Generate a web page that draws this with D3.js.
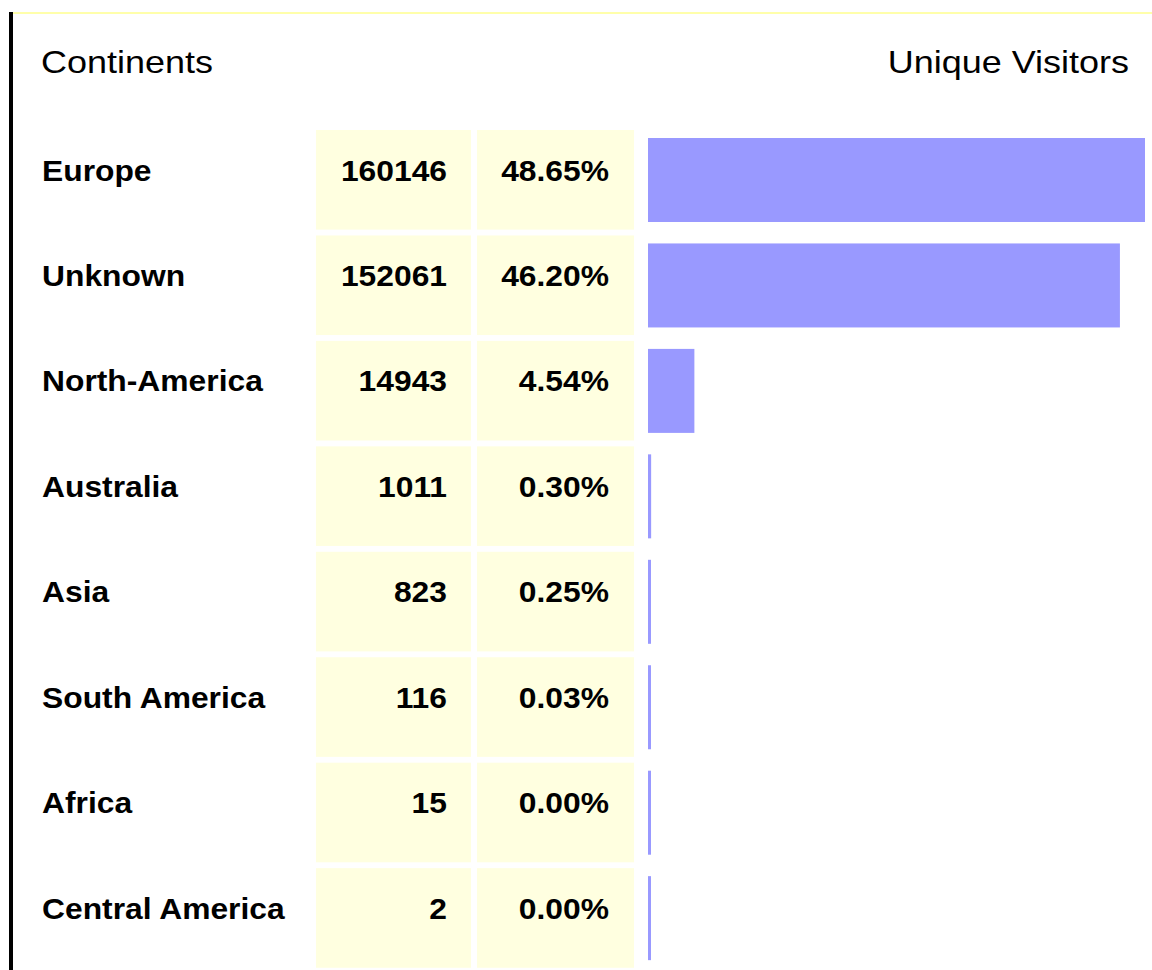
<!DOCTYPE html>
<html>
<head>
<meta charset="utf-8">
<script src="https://cdn.jsdelivr.net/npm/d3@7"></script>
<style>
  html, body { margin: 0; padding: 0; background: #ffffff; }
  svg { display: block; }
</style>
</head>
<body>
<script>
const continents = ["Europe", "Unknown", "North-America", "Australia", "Asia", "South America", "Africa", "Central America"];
const visitors = [160146, 152061, 14943, 1011, 823, 116, 15, 2];
const percents = ["48.65%", "46.20%", "4.54%", "0.30%", "0.25%", "0.03%", "0.00%", "0.00%"];
const headerLeft = "Continents";
const headerRight = "Unique Visitors";

const W = 1152, H = 970;
const font = "Liberation Sans, Arial, sans-serif";
const svg = d3.select("body").append("svg").attr("width", W).attr("height", H);

// frame lines
svg.append("rect").attr("x", 13).attr("y", 12).attr("width", W - 13).attr("height", 2).attr("fill", "#ffffaa");
svg.append("rect").attr("x", 9).attr("y", 12).attr("width", 4).attr("height", H - 12).attr("fill", "#000000");

// headers (horizontally stretched like the reference)
svg.append("text").attr("transform", "translate(41,73) scale(1.18,1)")
  .attr("font-family", font).attr("font-size", 30.5)
  .attr("fill", "#000").text(headerLeft);
svg.append("text").attr("transform", "translate(1129,73) scale(1.18,1)").attr("text-anchor", "end")
  .attr("font-family", font).attr("font-size", 30.5)
  .attr("fill", "#000").text(headerRight);

const step = 105.45, gap = 5.85, top0 = 130;
const y = d3.scaleBand().domain(continents)
  .range([top0, top0 + step * continents.length - gap])
  .paddingInner(gap / step).paddingOuter(0);
const x = d3.scaleLinear().domain([0, d3.max(visitors)]).range([0, 497]);

const rows = svg.selectAll("g.row").data(continents.map((c, i) => ({c, v: visitors[i], p: percents[i]})))
  .enter().append("g").attr("class", "row")
  .attr("transform", d => `translate(0,${y(d.c)})`);

const cellH = y.bandwidth();
rows.append("rect").attr("x", 316).attr("y", 0).attr("width", 155).attr("height", cellH).attr("fill", "#ffffe0");
rows.append("rect").attr("x", 477).attr("y", 0).attr("width", 157).attr("height", cellH).attr("fill", "#ffffe0");

const sx = 1.06, fs = 30, base = 50.5;
rows.append("text").attr("transform", `translate(42,${base}) scale(${sx},1)`).attr("font-family", font).attr("font-size", fs)
  .attr("font-weight", "bold").attr("fill", "#000").text(d => d.c);
rows.append("text").attr("transform", `translate(447,${base}) scale(${sx},1)`).attr("text-anchor", "end").attr("font-family", font).attr("font-size", fs)
  .attr("font-weight", "bold").attr("fill", "#000").text(d => d.v);
rows.append("text").attr("transform", `translate(609,${base}) scale(${sx},1)`).attr("text-anchor", "end").attr("font-family", font).attr("font-size", fs)
  .attr("font-weight", "bold").attr("fill", "#000").text(d => d.p);

rows.append("rect").attr("x", 648).attr("y", 8).attr("height", 84)
  .attr("width", d => Math.max(3, x(d.v))).attr("fill", "#9999ff");
</script>
</body>
</html>
